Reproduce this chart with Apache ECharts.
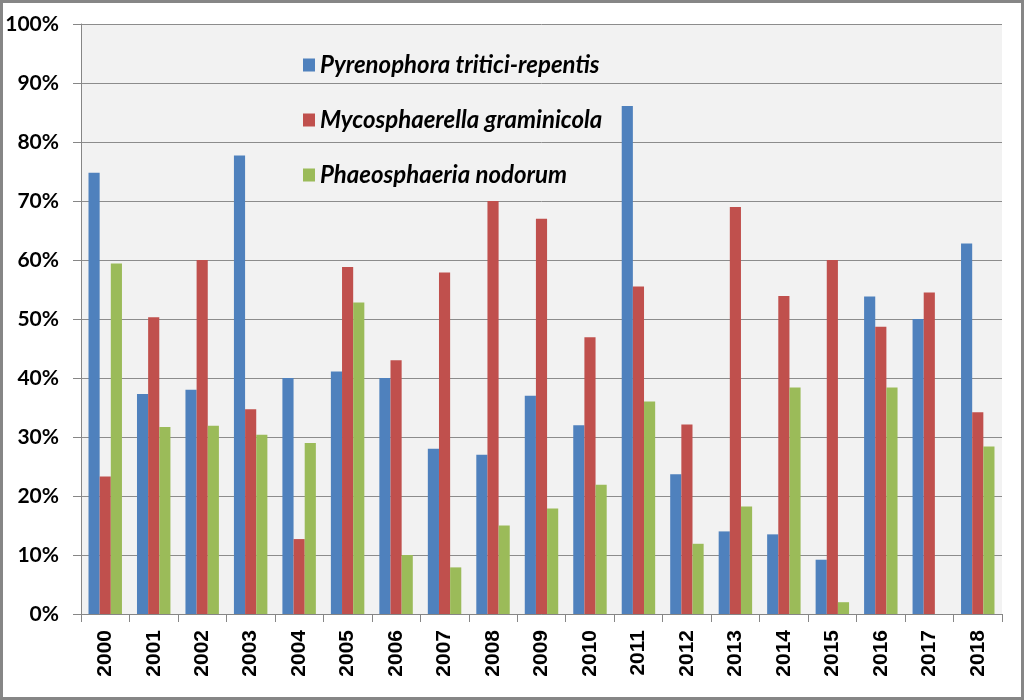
<!DOCTYPE html>
<html>
<head>
<meta charset="utf-8">
<script src="https://cdn.jsdelivr.net/npm/echarts@6/dist/echarts.min.js"></script>
<style>
html,body{margin:0;padding:0;background:#fff;}
#chart{width:1024px;height:700px;}
</style>
</head>
<body>
<div id="chart"></div>
<script>
const years = ['2000','2001','2002','2003','2004','2005','2006','2007','2008','2009','2010','2011','2012','2013','2014','2015','2016','2017','2018'];
const pyrenophora = [74.8, 37.3, 38.0, 77.7, 40.0, 41.1, 40.0, 28.0, 27.0, 37.0, 32.0, 86.1, 23.7, 14.0, 13.5, 9.2, 53.8, 50.0, 62.8];
const mycosphaerella = [23.3, 50.3, 60.0, 34.7, 12.7, 58.8, 43.0, 57.9, 70.0, 67.0, 46.9, 55.5, 32.1, 69.0, 53.9, 60.0, 48.7, 54.5, 34.2];
const phaeosphaeria = [59.4, 31.7, 31.9, 30.4, 29.0, 52.8, 10.0, 7.9, 15.0, 17.9, 21.9, 36.0, 11.9, 18.2, 38.4, 2.0, 38.4, 0, 28.4];
const seriesNames = ['Pyrenophora tritici-repentis', 'Mycosphaerella graminicola', 'Phaeosphaeria nodorum'];

const chart = echarts.init(document.getElementById('chart'), null, {renderer: 'canvas'});
const colors = ['#4f81bd', '#c0504d', '#9bbb59'];
const mk = (name, data, i) => ({
  name: name,
  type: 'bar',
  data: data,
  barGap: '0%',
  barCategoryGap: '31%',
  itemStyle: {color: colors[i]},
  emphasis: {disabled: true}
});
chart.setOption({
  animation: false,
  color: colors,
  graphic: [{
    type: 'rect',
    shape: {x: 1.5, y: 1.5, width: 1021, height: 697},
    style: {fill: 'none', stroke: '#868686', lineWidth: 3},
    z: 100
  }],
  grid: {
    left: 81, right: 22, top: 24, bottom: 86,
    show: true, backgroundColor: '#f2f2f2', borderWidth: 0
  },
  legend: {
    orient: 'vertical',
    left: 298,
    top: 48,
    itemWidth: 12,
    itemHeight: 13,
    itemGap: 31,
    icon: 'rect',
    selectedMode: false,
    textStyle: {
      fontFamily: 'Lato',
      fontWeight: 'bold',
      fontStyle: 'italic',
      fontSize: 24,
      lineHeight: 22,
      color: '#000'
    },
    data: seriesNames
  },
  xAxis: {
    type: 'category',
    data: years,
    axisLine: {show: true, lineStyle: {color: '#868686', width: 1}},
    axisTick: {show: true, alignWithLabel: false, length: 8, lineStyle: {color: '#868686'}},
    axisLabel: {
      rotate: 90,
      interval: 0,
      margin: 16,
      fontFamily: 'Liberation Sans',
      fontWeight: 'bold',
      fontSize: 21,
      color: '#000'
    },
    splitLine: {show: false}
  },
  yAxis: {
    type: 'value',
    min: 0,
    max: 100,
    interval: 10,
    axisLine: {show: true, lineStyle: {color: '#868686', width: 1}},
    axisTick: {show: true, length: 8, lineStyle: {color: '#868686'}},
    axisLabel: {
      formatter: '{value}%',
      margin: 22,
      fontFamily: 'Lato',
      fontWeight: 'bold',
      fontSize: 21,
      color: '#000'
    },
    splitLine: {show: true, lineStyle: {color: '#8c8c8c', width: 1}}
  },
  series: [
    mk(seriesNames[0], pyrenophora, 0),
    mk(seriesNames[1], mycosphaerella, 1),
    mk(seriesNames[2], phaeosphaeria, 2)
  ]
});
</script>
</body>
</html>
